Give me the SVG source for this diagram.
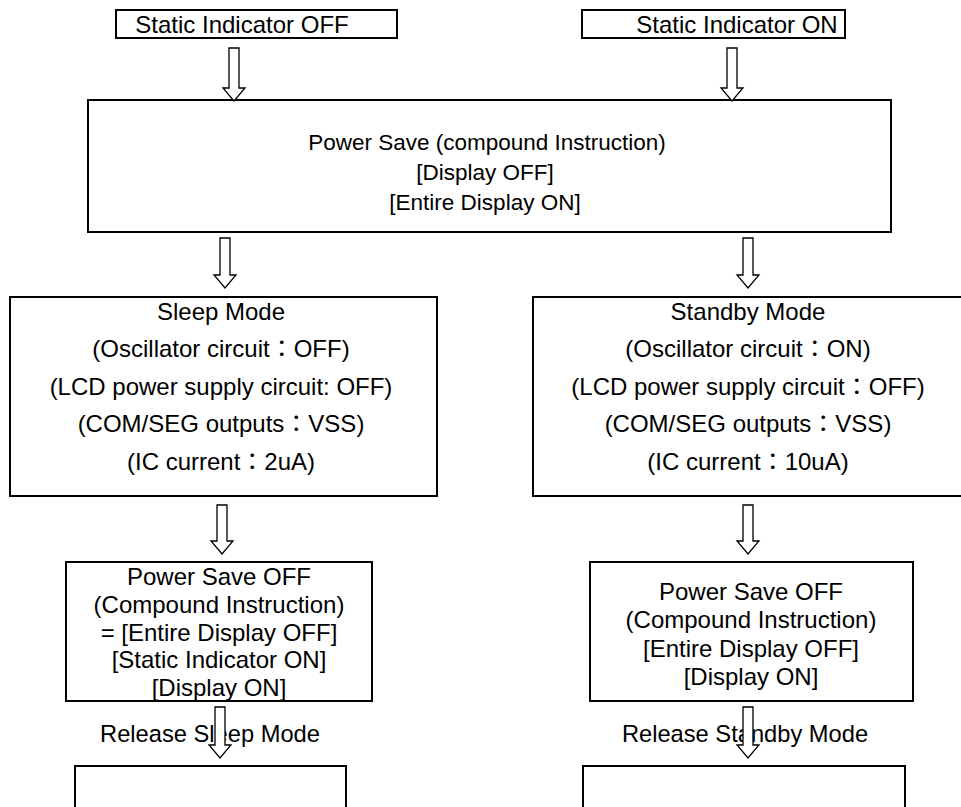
<svg xmlns="http://www.w3.org/2000/svg" width="961" height="807" viewBox="0 0 961 807">
  <style>
    .box { fill: #ffffff; stroke: #000000; stroke-width: 2; }
    .arrow { fill: #ffffff; stroke: #000000; stroke-width: 1.3; stroke-linejoin: miter; }
    text { font-family: "Liberation Sans", Arial, "Noto Sans CJK JP", sans-serif; fill: #000000; text-anchor: middle; }
    .t22 { font-size: 22.5px; }
    .t24 { font-size: 24px; }
    .rel { font-size: 23.7px; }
  </style>
  <rect width="961" height="807" fill="#ffffff"/>

  <g id="static-off">
    <rect class="box" x="116" y="10" width="281" height="28"/>
    <text class="t24" x="242" y="33">Static Indicator OFF</text>
  </g>

  <g id="static-on">
    <rect class="box" x="582" y="10" width="263" height="28"/>
    <text class="t24" x="737" y="33">Static Indicator ON</text>
  </g>

  <g id="power-save">
    <rect class="box" x="88" y="100" width="803" height="132"/>
    <text class="t22" x="487" y="150">Power Save (compound Instruction)</text>
    <text class="t22" x="485" y="180">[Display OFF]</text>
    <text class="t22" x="485" y="210">[Entire Display ON]</text>
  </g>

  <g id="sleep-mode">
    <rect class="box" x="10" y="297" width="427" height="199"/>
    <text class="t24" x="221" y="320">Sleep Mode</text>
    <text class="t24" x="221" y="357">(Oscillator circuit：OFF)</text>
    <text class="t24" x="221" y="395">(LCD power supply circuit: OFF)</text>
    <text class="t24" x="221" y="432">(COM/SEG outputs：VSS)</text>
    <text class="t24" x="221" y="470">(IC current：2uA)</text>
  </g>

  <g id="standby-mode">
    <rect class="box" x="533" y="297" width="432" height="199"/>
    <text class="t24" x="748" y="320">Standby Mode</text>
    <text class="t24" x="748" y="357">(Oscillator circuit：ON)</text>
    <text class="t24" x="748" y="395">(LCD power supply circuit：OFF)</text>
    <text class="t24" x="748" y="432">(COM/SEG outputs：VSS)</text>
    <text class="t24" x="748" y="470">(IC current：10uA)</text>
  </g>

  <g id="power-save-off-sleep">
    <rect class="box" x="66" y="562" width="306" height="139"/>
    <text class="t24" x="219" y="585">Power Save OFF</text>
    <text class="t24" x="219" y="613">(Compound Instruction)</text>
    <text class="t24" x="219" y="641">= [Entire Display OFF]</text>
    <text class="t24" x="219" y="668">[Static Indicator ON]</text>
    <text class="t24" x="219" y="696">[Display ON]</text>
  </g>

  <g id="power-save-off-standby">
    <rect class="box" x="590" y="562" width="323" height="139"/>
    <text class="t24" x="751" y="600">Power Save OFF</text>
    <text class="t24" x="751" y="628">(Compound Instruction)</text>
    <text class="t24" x="751" y="657">[Entire Display OFF]</text>
    <text class="t24" x="751" y="685">[Display ON]</text>
  </g>

  <g id="release-sleep">
    <text class="rel" x="210" y="742">Release Sleep Mode</text>
    <rect class="box" x="75" y="766" width="271" height="60"/>
  </g>

  <g id="release-standby">
    <text class="rel" x="745" y="742">Release Standby Mode</text>
    <rect class="box" x="583" y="766" width="322" height="60"/>
  </g>

  <!-- hollow block arrows: shaft 10 wide, head 22 wide, head 13 tall -->
  <g id="connectors">
    <path class="arrow" d="M229,48 H239 V88 H245 L234,101 L223,88 H229 Z"/>
    <path class="arrow" d="M727,48 H737 V88 H743 L732,101 L721,88 H727 Z"/>
    <path class="arrow" d="M220,238 H230 V275 H236 L225,288 L214,275 H220 Z"/>
    <path class="arrow" d="M743,238 H753 V275 H759 L748,288 L737,275 H743 Z"/>
    <path class="arrow" d="M217,505 H227 V541 H233 L222,554 L211,541 H217 Z"/>
    <path class="arrow" d="M743,505 H753 V541 H759 L748,554 L737,541 H743 Z"/>
    <path class="arrow" d="M215,707 H225 V745 H231 L220,758 L209,745 H215 Z"/>
    <path class="arrow" d="M743,707 H753 V745 H759 L748,758 L737,745 H743 Z"/>
  </g>
</svg>
